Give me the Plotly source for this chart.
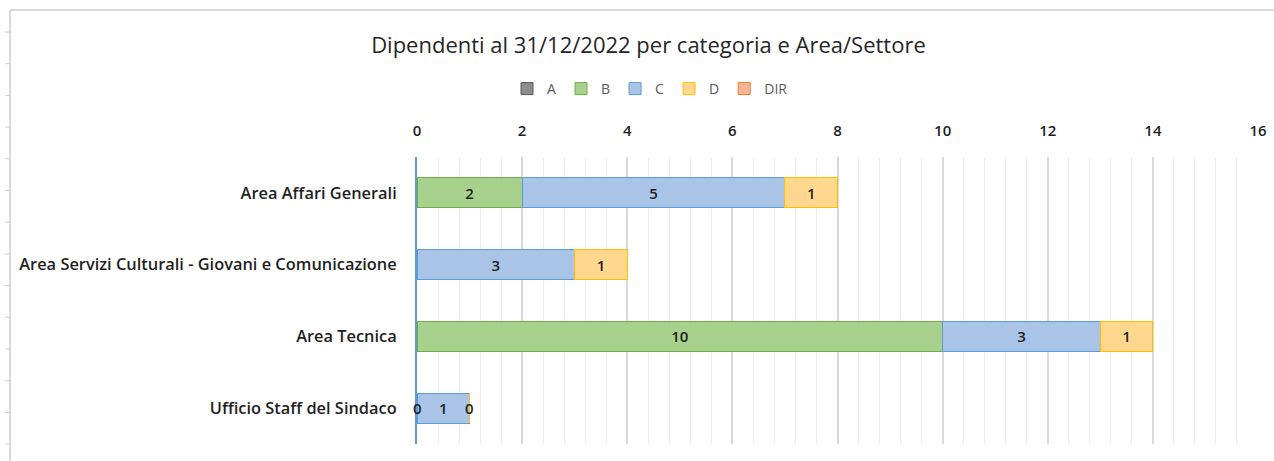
import plotly.graph_objects as go

categories = ["Area Affari Generali",
              "Area Servizi Culturali - Giovani e Comunicazione",
              "Area Tecnica",
              "Ufficio Staff del Sindaco"]
series_names = ["A", "B", "C", "D", "DIR"]
values_A = [None, None, None, None]
values_B = [2, None, 10, 0]
values_C = [5, 3, 3, 1]
values_D = [1, 1, 1, 0]
values_DIR = [None, None, None, None]
x_ticks = [0, 2, 4, 6, 8, 10, 12, 14, 16]

fills = ["#8c8c8c", "#a9d18e", "#a9c4e7", "#ffd78e", "#f7b797"]
borders = ["#595959", "#70ad47", "#5b9bd5", "#ffc000", "#ed7d31"]
all_values = [values_A, values_B, values_C, values_D, values_DIR]

W, H = 1274, 461
L, R, T, B = 417, 16, 157, 17
PW, PH = W - L - R, H - T - B

label_font = dict(family="Open Sans", size=15, color="#1f1f1f", weight=600)
cat_font = dict(family="Open Sans", size=16.4, color="#1f1f1f", weight=600)

fig = go.Figure()
for name, vals, fc, bc in zip(series_names, all_values, fills, borders):
    fig.add_trace(go.Bar(
        y=categories, x=vals, name=name, orientation="h",
        marker=dict(color=fc, line=dict(color=bc, width=1)),
        text=[("" if v is None else str(v)) for v in vals],
        textposition="inside", insidetextanchor="middle",
        textfont=label_font,
        constraintext="none",
    ))

# labels for zero-value segments (Excel shows them at the segment position)
annotations = []
for i, cat in enumerate(categories):
    cum = 0
    for vals in all_values:
        v = vals[i]
        if v is None:
            continue
        if v == 0:
            annotations.append(dict(x=cum, y=cat, xref="x", yref="y", text="0",
                                    showarrow=False, font=label_font))
        cum += v

def px_x(p):
    return (p - L) / PW

def px_y(p):
    return (H - B - p) / PH

shapes = [
    dict(type="line", xref="paper", yref="paper", x0=px_x(10), x1=px_x(W),
         y0=px_y(10), y1=px_y(10), line=dict(color="#d9d9d9", width=2)),
    dict(type="line", xref="paper", yref="paper", x0=px_x(10), x1=px_x(10),
         y0=px_y(10), y1=px_y(H), line=dict(color="#d9d9d9", width=2)),
]
row = 32.0
while row < H:
    shapes.append(dict(type="line", xref="paper", yref="paper", x0=px_x(5), x1=px_x(10),
                       y0=px_y(row), y1=px_y(row), line=dict(color="#d0d0d0", width=1)))
    row += 31.7

fig.update_layout(
    barmode="stack",
    bargap=0.58,
    width=W, height=H,
    paper_bgcolor="white", plot_bgcolor="white",
    margin=dict(l=L, r=R, t=T, b=B, autoexpand=False),
    title=dict(text="Dipendenti al 31/12/2022 per categoria e Area/Settore",
               x=0.509, xanchor="center", y=1 - 45 / H, yanchor="middle",
               font=dict(family="Open Sans", size=22, color="#262626")),
    legend=dict(orientation="h", x=px_x(650), xanchor="center", y=px_y(89), yanchor="middle",
                font=dict(family="Open Sans", size=14, color="#595959"),
                itemwidth=30, traceorder="normal"),
    annotations=annotations,
    xaxis=dict(side="top", range=[0, 16], tickvals=x_ticks, automargin=False,
               showgrid=True, gridcolor="#d9d9d9", gridwidth=1.5,
               minor=dict(dtick=0.4, showgrid=True, gridcolor="#ececec", gridwidth=1),
               zeroline=False, showline=False, ticks="", ticklabelstandoff=17,
               tickfont=label_font, fixedrange=True),
    yaxis=dict(autorange=False, showline=True, linecolor="#5b9bd5", linewidth=2,
               showgrid=False, ticks="", ticklabelstandoff=15, automargin=False,
               tickfont=cat_font, range=[3.5, -0.5], fixedrange=True),
    shapes=shapes,
)

fig.write_html("out.html", config={"displayModeBar": False},
               post_script="document.body.style.margin='0';")
